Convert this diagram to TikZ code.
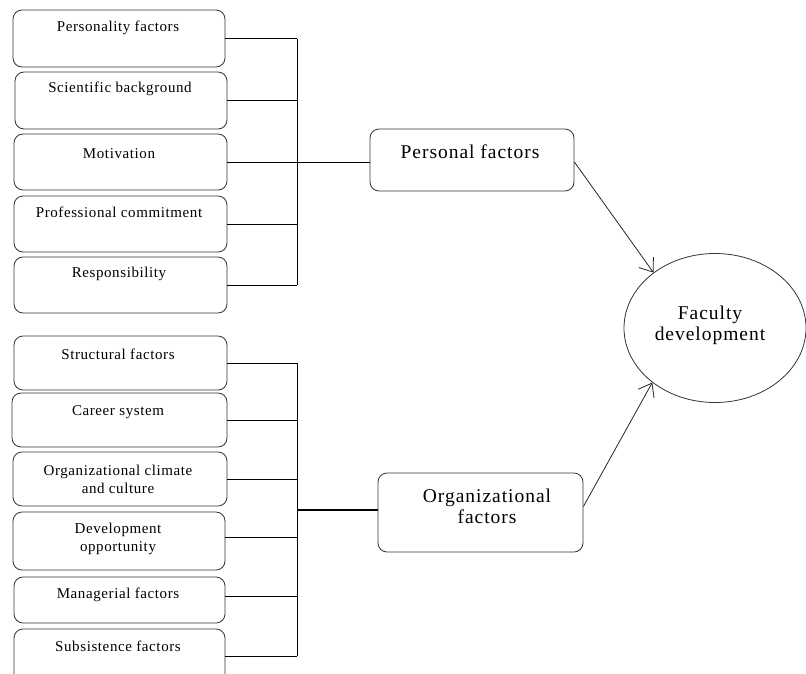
\documentclass[tikz,border=0pt]{standalone}
\usepackage{fontspec}
\setmainfont{Liberation Serif}
\newfontfamily\spsmall[LetterSpace=4]{Liberation Serif}
\newfontfamily\spbig[LetterSpace=5]{Liberation Serif}
\usetikzlibrary{arrows.meta,shapes.geometric}
\begin{document}
\begin{tikzpicture}[x=1pt,y=-1pt,
  box/.style={draw=black!80, line width=0.8pt, rounded corners=9pt, inner sep=0pt},
  txt/.style={inner sep=0pt, align=center, font=\spsmall\fontsize{15}{18}\selectfont},
  big/.style={inner sep=0pt, align=center, font=\spbig\fontsize{19.5}{21}\selectfont},
  conn/.style={draw=black, line width=0.8pt},
  arr/.style={draw=black!85, line width=0.8pt, -{Straight Barb[length=12pt,width=18pt,line width=0.8pt]}}]
\useasboundingbox (0,0) rectangle (806,673);
% personal factor boxes
\node[box, minimum width=212pt, minimum height=57pt] (b1) at (119,38.5) {};
\node[box, minimum width=212pt, minimum height=57pt] (b2) at (121,100.5) {};
\node[box, minimum width=213pt, minimum height=56pt] (b3) at (120.5,162) {};
\node[box, minimum width=213pt, minimum height=56pt] (b4) at (120.5,224) {};
\node[box, minimum width=213pt, minimum height=56pt] (b5) at (120.5,285) {};
\node[txt] (t1) at (118,28) {Personality factors};
\node[txt] (t2) at (120,89) {Scientific background};
\node[txt] (t3) at (119,154) {Motivation};
\node[txt] (t4) at (119,212) {Professional commitment};
\node[txt] (t5) at (119,274) {Responsibility};
% organizational factor boxes
\node[box, minimum width=213pt, minimum height=54pt] (c1) at (120.5,363) {};
\node[box, minimum width=215pt, minimum height=54pt] (c2) at (119.5,420) {};
\node[box, minimum width=214pt, minimum height=54pt] (c3) at (120,479) {};
\node[box, minimum width=212pt, minimum height=58pt] (c4) at (119,541) {};
\node[box, minimum width=211pt, minimum height=46pt] (c5) at (119.5,600) {};
\node[box, minimum width=211pt, minimum height=54pt] (c6) at (119.5,656) {};
\node[txt] (u1) at (118,354) {Structural factors};
\node[txt] (u2) at (118,412) {Career system};
\node[txt] (u3) at (118,479) {Organizational climate\\and culture};
\node[txt] (u4) at (118,539) {Development\\opportunity};
\node[txt] (u5) at (118,595) {Managerial factors};
\node[txt] (u6) at (118,646) {Subsistence factors};
% middle boxes
\node[box, minimum width=204pt, minimum height=62pt] (pf) at (472,160) {};
\node[big] (pft) at (470,152) {Personal factors};
\node[box, minimum width=205pt, minimum height=79pt] (of) at (480.5,512.5) {};
\node[big] (oft) at (487,506) {Organizational\\factors};
% ellipse
\node[draw=black!80, line width=0.8pt, ellipse, minimum width=182pt, minimum height=149pt, inner sep=0pt] (fd) at (715,328) {};
\node[big] (fdt) at (710,325.5) {Faculty\\development};
% bus personal
\coordinate (pt) at (297,38.5);
\coordinate (pb) at (297,285);
\draw[conn] (pt) -- (pb);
\foreach \n in {b1,b2,b3,b4,b5} \draw[conn] (\n.east) -- (\n.east -| pt);
\coordinate (pfin) at ([yshift=-2pt]pf.west);
\draw[conn] (pfin) -- (pfin -| pt);
% bus organizational
\coordinate (ot) at (297,363);
\coordinate (ob) at (297,656);
\draw[conn] (ot) -- (ob);
\foreach \n in {c1,c2,c3,c6} \draw[conn] (\n.east) -- (\n.east -| ot);
\coordinate (c4e) at ([yshift=4pt]c4.east);
\coordinate (c5e) at ([yshift=4pt]c5.east);
\draw[conn] (c4e) -- (c4e -| ot);
\draw[conn] (c5e) -- (c5e -| ot);
\coordinate (ofin) at ([yshift=2.5pt]of.west);
\draw[conn, line width=1.3pt] (ofin) -- (ofin -| ot);
% arrows
\coordinate (pfout) at ([yshift=-2pt]pf.east);
\coordinate (ofout) at ([yshift=6pt]of.east);
\draw[arr] (pfout) -- (fd.138.5);
\draw[arr] (ofout) -- (fd.221.5);
\end{tikzpicture}
\end{document}
